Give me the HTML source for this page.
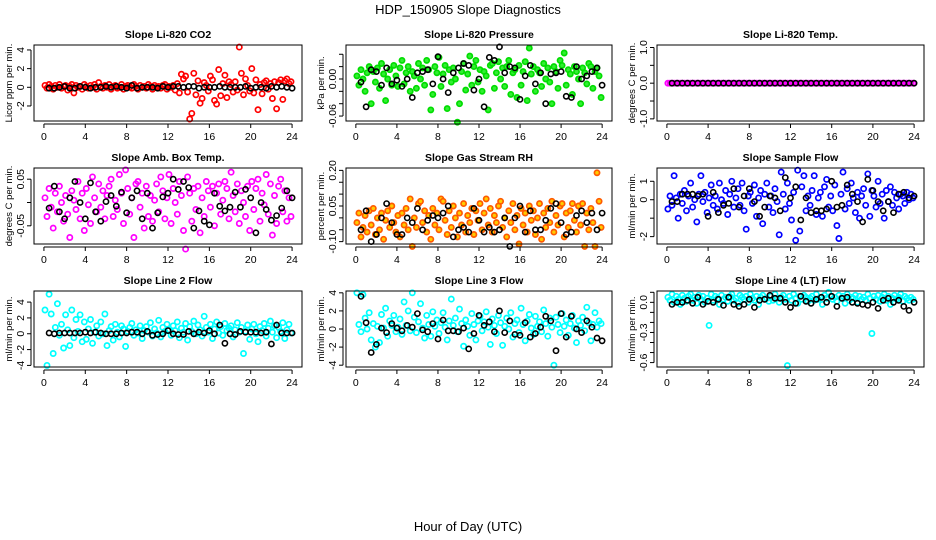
<!DOCTYPE html>
<html><head><meta charset="utf-8"><style>
html,body{margin:0;padding:0;background:#fff;}
svg{display:block;font-family:"Liberation Sans",Arial,sans-serif;}
</style></head><body>
<svg id="chart" width="936" height="540" viewBox="0 0 936 540" xmlns="http://www.w3.org/2000/svg">
<rect x="0" y="0" width="936" height="540" fill="#fff"/>
<text x="468" y="14" text-anchor="middle" font-size="13">HDP_150905  Slope Diagnostics</text>
<text x="468" y="531" text-anchor="middle" font-size="13">Hour of Day (UTC)</text>
</svg>
<script>
const hours = [0.1,0.3,0.5,0.7,0.9,1.1,1.3,1.5,1.7,1.9,2.1,2.3,2.5,2.7,2.9,3.1,3.3,3.5,3.7,3.9,4.1,4.3,4.5,4.7,4.9,5.1,5.3,5.5,5.7,5.9,6.1,6.3,6.5,6.7,6.9,7.1,7.3,7.5,7.7,7.9,8.1,8.3,8.5,8.7,8.9,9.1,9.3,9.5,9.7,9.9,10.1,10.3,10.5,10.7,10.9,11.1,11.3,11.5,11.7,11.9,12.1,12.3,12.5,12.7,12.9,13.1,13.3,13.5,13.7,13.9,14.1,14.3,14.5,14.7,14.9,15.1,15.3,15.5,15.7,15.9,16.1,16.3,16.5,16.7,16.9,17.1,17.3,17.5,17.7,17.9,18.1,18.3,18.5,18.7,18.9,19.1,19.3,19.5,19.7,19.9,20.1,20.3,20.5,20.7,20.9,21.1,21.3,21.5,21.7,21.9,22.1,22.3,22.5,22.7,22.9,23.1,23.3,23.5,23.7,23.9];
const blackHours = [0.5,1,1.5,2,2.5,3,3.5,4,4.5,5,5.5,6,6.5,7,7.5,8,8.5,9,9.5,10,10.5,11,11.5,12,12.5,13,13.5,14,14.5,15,15.5,16,16.5,17,17.5,18,18.5,19,19.5,20,20.5,21,21.5,22,22.5,23,23.5,24];
const xTicks = [0,4,8,12,16,20,24];

const co2Red = [0.2,-0.1,0.3,0.1,-0.2,0.2,0.0,0.3,-0.1,0.1,0.2,-0.3,0.1,0.3,-0.6,0.2,0.0,0.1,-0.2,0.3,0.1,-0.1,0.2,0.0,0.3,-0.2,0.5,0.1,-0.1,0.2,0.0,0.3,-0.2,0.1,0.2,-0.1,0.0,0.3,-0.2,0.1,0.2,0.0,-0.1,0.3,0.1,-0.2,0.2,0.0,0.1,-0.1,0.3,0.1,-0.2,0.2,0.0,0.1,-0.1,0.2,0.3,-0.2,0.1,0.0,0.2,-0.3,0.4,-0.6,1.4,0.9,1.2,-0.5,-3.4,-2.8,1.5,-0.8,0.7,-1.7,-1.2,0.5,0.2,-0.4,1.2,0.8,-1.4,-1.8,1.9,-0.9,0.4,1.3,-1.1,0.6,0.3,-0.5,0.6,-0.3,4.3,1.5,-0.8,0.9,0.2,-0.4,2.0,-0.6,0.8,-2.4,0.3,-0.7,0.5,0.7,-0.2,0.4,-1.2,0.6,-2.3,0.5,0.8,-1.3,0.7,0.9,0.4,0.6];
const co2Black = [-0.1,-0.1,0.0,0.1,-0.1,-0.1,0.1,0.0,-0.1,0.0,0.0,0.1,0.0,0.1,0.0,-0.1,0.2,-0.1,0.0,0.0,0.0,-0.1,0.1,0.0,0.1,0.1,0.0,0.1,0.1,-0.1,0.0,0.0,0.0,0.1,0.0,0.0,0.0,0.0,0.1,-0.1,0.0,0.0,-0.1,0.1,0.0,0.1,0.0,-0.1];

const pressGreen = [0.005,-0.01,0.015,0.0,-0.02,0.01,0.02,-0.04,0.012,-0.005,0.018,-0.015,0.025,0.008,-0.035,0.0,0.015,-0.01,0.022,0.005,-0.012,0.018,0.03,-0.008,0.01,0.02,-0.02,0.012,0.005,-0.015,0.025,0.0,0.018,-0.01,0.03,0.015,-0.05,-0.025,0.02,0.01,0.035,-0.012,0.008,0.022,-0.048,0.015,-0.005,0.018,0.0,-0.07,-0.04,0.012,0.025,-0.018,0.008,0.037,-0.01,0.02,0.03,-0.005,0.015,-0.02,0.012,0.005,-0.05,0.022,0.025,-0.015,0.01,0.028,0.0,0.018,-0.012,0.02,0.03,-0.025,0.01,0.015,-0.03,0.022,-0.01,0.012,0.028,-0.035,0.05,0.008,0.02,-0.02,0.015,0.01,-0.012,0.025,0.0,0.018,-0.005,-0.04,0.02,0.012,-0.015,0.03,0.022,0.042,-0.01,0.015,0.008,-0.025,0.02,0.012,0.0,-0.04,0.018,0.01,-0.008,0.025,0.02,-0.015,0.012,0.018,0.005,-0.03];
const pressBlack = [-0.005,-0.045,0.015,0.012,-0.01,0.018,-0.008,-0.002,-0.012,0.0,-0.03,0.01,0.012,0.015,-0.008,0.036,0.0,-0.022,0.01,0.018,0.025,0.022,-0.018,0.0,-0.045,0.035,0.03,0.052,0.01,0.02,0.018,-0.033,0.005,0.022,-0.008,0.01,-0.04,0.008,0.01,0.012,-0.028,-0.03,0.02,0.0,0.005,0.012,0.018,-0.01];

const tempMagenta = [0,0,0,0,0,0,0,0,0,0,0,0,0,0,0,0,0,0,0,0,0,0,0,0,0,0,0,0,0,0,0,0,0,0,0,0,0,0,0,0,0,0,0,0,0,0,0,0,0,0,0,0,0,0,0,0,0,0,0,0,0,0,0,0,0,0,0,0,0,0,0,0,0,0,0,0,0,0,0,0,0,0,0,0,0,0,0,0,0,0,0,0,0,0,0,0,0,0,0,0,0,0,0,0,0,0,0,0,0,0,0,0,0,0,0,0,0,0,0,0];
const tempBlack = [0,0,0,0,0,0,0,0,0,0,0,0,0,0,0,0,0,0,0,0,0,0,0,0,0,0,0,0,0,0,0,0,0,0,0,0,0,0,0,0,0,0,0,0,0,0,0,0];

const ambMagenta = [0.01,-0.03,0.03,-0.01,-0.055,0.02,-0.02,0.035,0.0,-0.04,0.015,-0.025,-0.075,0.025,0.005,-0.015,0.045,-0.035,0.02,-0.06,0.03,-0.005,-0.045,0.055,0.01,-0.02,0.04,-0.01,0.025,-0.035,0.015,0.035,0.05,-0.03,0.005,-0.015,0.06,0.02,-0.045,0.07,0.03,-0.025,0.01,-0.075,0.04,0.045,-0.01,0.02,-0.055,0.035,-0.03,0.015,-0.04,0.005,0.04,-0.02,0.055,0.025,-0.035,0.01,0.06,-0.045,0.03,0.0,-0.025,0.045,0.015,-0.06,-0.1,0.055,0.02,-0.04,0.03,-0.015,0.035,-0.065,0.01,-0.03,0.045,0.025,-0.01,0.035,-0.05,0.02,0.04,-0.025,0.005,0.045,0.03,-0.035,0.065,0.015,-0.02,0.04,-0.045,0.025,0.0,-0.03,0.035,-0.06,0.045,-0.015,0.03,0.05,-0.04,0.02,-0.005,0.06,-0.025,0.04,-0.07,0.015,-0.045,0.035,0.05,-0.02,0.025,-0.04,0.01,-0.03];
const ambBlack = [-0.012,0.035,-0.02,-0.035,0.01,0.045,0.0,-0.035,0.042,-0.02,-0.04,0.002,0.015,-0.008,0.022,-0.022,0.01,0.025,-0.035,0.02,-0.055,-0.022,0.012,0.02,0.05,0.028,0.045,0.032,-0.055,-0.018,-0.04,-0.048,0.02,-0.008,-0.018,-0.01,0.022,-0.01,0.028,0.01,-0.065,0.0,-0.015,-0.038,-0.028,-0.012,0.025,0.01];

const rhOrange = [-0.02,0.02,-0.08,-0.04,0.01,-0.06,0.03,-0.03,0.04,-0.07,0.0,-0.05,0.02,-0.09,-0.01,0.03,-0.04,0.05,-0.02,-0.06,0.01,-0.08,0.02,-0.03,0.04,-0.05,0.08,-0.12,0.0,-0.04,0.06,0.07,-0.02,0.03,-0.06,0.01,-0.09,0.04,-0.03,0.02,-0.05,0.08,0.07,-0.01,-0.07,0.03,-0.04,0.05,0.0,-0.08,0.02,-0.03,0.06,-0.06,0.01,-0.02,0.04,-0.07,0.03,-0.01,0.06,-0.05,0.02,0.08,-0.03,0.04,-0.06,0.01,-0.02,0.05,0.07,-0.04,0.0,-0.08,0.03,-0.02,0.06,-0.05,0.01,-0.11,0.04,-0.03,0.02,-0.06,0.05,-0.01,0.03,-0.07,0.0,0.06,-0.09,0.02,-0.04,0.04,-0.02,0.07,-0.06,0.01,-0.03,0.05,0.06,-0.08,0.02,-0.04,0.03,0.06,-0.01,-0.06,0.05,-0.03,0.06,-0.12,0.02,-0.05,0.04,-0.02,-0.12,0.19,0.07,-0.04];
const rhBlack = [-0.05,0.03,-0.1,-0.07,0.0,0.06,-0.02,-0.07,-0.07,0.0,-0.02,0.04,-0.05,-0.01,0.01,0.0,0.02,0.05,-0.08,-0.05,-0.04,-0.06,0.04,-0.01,-0.06,-0.04,-0.06,-0.05,0.0,-0.12,0.0,0.05,-0.06,0.03,-0.05,-0.05,-0.01,0.04,0.06,-0.02,-0.07,-0.06,0.01,0.03,-0.02,0.02,-0.05,0.02];

const sampleBlue = [-0.5,0.2,-0.3,1.3,0.1,-1.0,0.3,-0.2,0.5,-0.6,0.2,0.9,-0.4,0.0,-1.2,0.3,1.3,-0.1,0.4,-0.7,0.1,0.8,-0.3,0.2,-0.5,0.9,0.0,-0.2,0.5,-0.8,0.3,1.0,-0.4,0.1,0.6,-0.3,0.9,-0.6,-1.6,0.2,0.4,-0.2,0.8,-0.9,0.1,0.5,-1.3,0.3,0.9,-0.4,0.2,-0.7,0.6,-0.1,-1.9,1.5,0.3,-0.5,0.9,-0.2,-1.1,0.4,-2.2,1.6,-1.7,0.7,1.3,-0.6,0.2,-0.3,0.5,1.3,-0.8,0.1,0.4,-0.9,0.7,1.1,-0.4,0.2,-0.6,0.8,-1.4,-2.1,0.3,1.5,-0.5,0.6,-0.2,0.9,0.1,-0.7,0.4,-1.0,0.2,0.6,-0.3,1.4,-0.9,0.5,0.2,-0.4,1.0,-0.2,0.3,-1.0,0.5,-0.1,0.7,-0.3,0.4,0.1,-0.5,0.3,0.2,-0.2,0.4,0.0,0.3,0.1];
const sampleBlack = [-0.1,-0.1,0.3,0.3,0.3,0.2,0.3,-0.9,0.4,-0.7,-0.3,-0.2,0.6,-0.4,0.2,0.6,-0.1,-0.9,-0.4,0.2,0.1,-0.6,1.2,0.1,0.7,-1.1,0.1,-0.7,-0.6,-0.6,-0.5,1.0,-0.4,-0.3,0.8,0.3,-0.1,-1.2,1.1,0.5,-0.1,-0.6,-0.1,-0.7,0.3,0.4,0.1,0.2];

const line2Cyan = [3.0,-4.0,5.0,2.5,-2.5,0.8,3.8,-0.2,1.2,-1.8,2.4,0.5,-1.5,3.0,-0.5,1.8,0.3,2.4,-1.0,1.5,-0.7,0.6,1.8,-1.2,0.2,1.0,-0.3,1.5,0.0,2.5,-1.5,0.4,0.9,-0.8,1.2,0.2,-0.4,1.0,0.6,-1.6,0.3,0.8,1.3,-0.2,0.5,0.1,1.0,-0.6,0.4,0.9,0.2,1.4,-0.3,0.6,0.1,1.7,-0.4,0.8,0.3,1.2,0.5,-0.2,1.0,0.4,1.5,-0.5,0.7,0.2,1.3,-0.8,0.9,0.3,1.6,0.0,1.1,0.5,-0.3,2.2,0.8,0.2,1.2,-0.6,0.6,1.5,0.1,0.9,-0.2,1.3,0.4,0.7,1.0,-0.4,0.5,1.4,0.2,0.8,-2.5,0.3,1.1,-0.7,0.6,1.2,0.0,-1.0,0.9,0.4,1.3,-0.3,0.7,1.6,0.2,1.0,-0.5,0.8,0.3,1.4,-0.6,0.5,1.2,0.1];
const line2Black = [0.1,0.0,0.1,0.1,0.1,0.1,0.1,0.2,0.1,0.2,0.1,0.0,0.0,0.0,0.1,0.1,0.2,0.2,0.0,0.3,-0.2,-0.1,0.0,0.4,0.0,-0.1,-0.1,0.3,0.0,0.2,0.1,0.4,0.0,1.1,-1.2,0.0,-0.1,0.3,0.2,0.2,0.2,0.1,0.2,-1.3,1.1,0.1,0.1,0.1];

const line3Cyan = [4.0,0.5,-0.3,3.8,1.2,0.0,1.8,-1.2,0.6,-2.0,0.3,-1.5,1.6,0.1,2.3,-0.8,0.9,0.4,1.5,-0.3,0.2,1.1,-0.6,3.0,0.4,2.0,-0.2,4.0,1.3,-0.4,0.8,2.8,0.1,-1.0,1.5,0.5,-0.8,1.9,0.3,1.0,-0.5,0.7,1.8,0.2,-1.2,0.9,3.3,0.4,1.2,-0.3,2.2,0.6,-1.9,1.0,0.3,-0.7,1.7,0.5,-1.2,0.9,1.4,-0.2,0.8,1.9,0.2,-1.7,1.1,0.4,-0.5,1.5,0.7,-1.8,0.3,1.2,0.0,1.8,-0.9,0.6,1.0,-0.4,2.3,0.5,-1.3,0.9,1.6,0.1,-0.6,1.4,0.3,0.8,-0.3,2.1,0.6,-0.8,1.2,0.2,-4.0,1.3,0.5,-0.4,1.7,0.3,1.0,-0.7,0.6,1.5,0.1,-1.5,0.9,0.4,1.3,-0.2,2.4,0.7,-1.3,0.5,1.8,0.2,0.9,0.6];
const line3Black = [3.6,0.7,-2.6,-1.7,0.1,-0.4,0.6,0.1,-0.2,0.4,0.2,1.7,-0.1,-0.3,0.6,-1.1,1.0,-0.2,-0.2,-0.3,0.1,-2.2,-0.5,1.5,0.4,0.8,-0.3,2.0,-0.4,0.9,-0.6,-0.7,0.7,-0.9,-0.5,0.2,1.4,0.9,-2.4,1.7,-0.9,1.4,0.0,-0.4,0.9,0.2,-1.0,-1.3];

const line4Cyan = [0.05,0.02,0.08,0.0,0.06,0.03,-0.02,0.07,0.04,0.01,0.06,0.08,0.02,0.05,-0.01,0.07,0.03,0.06,0.0,0.04,-0.23,0.08,0.02,0.06,0.04,-0.02,0.07,0.03,0.05,0.01,0.06,0.08,0.02,0.04,-0.01,0.07,0.05,0.03,0.06,0.0,0.08,0.04,0.02,0.06,-0.02,0.05,0.07,0.03,0.04,0.01,0.06,0.02,0.08,0.04,0.0,0.05,0.07,0.03,-0.63,0.06,0.02,0.08,0.04,-0.01,0.06,0.03,0.07,0.05,0.01,0.04,0.06,0.02,0.08,0.03,0.05,-0.02,0.07,0.04,0.1,0.06,0.03,0.05,0.01,0.07,0.04,0.06,-0.01,0.08,0.02,0.05,0.04,0.07,0.0,0.06,0.03,0.05,0.02,0.08,0.04,-0.31,0.06,0.03,0.07,0.01,0.05,0.08,0.02,0.06,-0.02,0.04,0.07,0.03,0.05,0.08,0.01,0.06,0.04,0.02,0.05,0.03];
const line4Black = [-0.02,0.0,0.0,0.02,-0.01,0.05,-0.02,0.01,0.0,0.03,-0.03,0.05,-0.02,-0.04,-0.02,0.03,-0.05,0.02,0.03,0.07,0.04,0.04,0.0,-0.05,-0.01,0.06,0.01,-0.01,0.03,0.05,0.0,0.06,-0.04,0.04,0.05,0.0,-0.01,-0.02,-0.03,0.0,-0.06,0.02,0.04,0.0,0.02,-0.04,-0.08,0.0];

const co2Ticks = [-2,0,2,4], co2Labels = ["-2","0","2","4"];
const pressTicks = [-0.06,-0.04,-0.02,0,0.02,0.04], pressLabels = ["-0.06","","","0.00","",""];
const tempTicks = [-1,-0.5,0,0.5,1], tempLabels = ["-1.0","","0.0","","1.0"];
const ambTicks = [-0.05,0,0.05], ambLabels = ["-0.05","","0.05"];
const rhTicks = [-0.1,-0.05,0,0.05,0.1,0.15,0.2], rhLabels = ["-0.10","","","0.05","","","0.20"];
const sampleTicks = [-2,-1,0,1], sampleLabels = ["-2","","0","1"];
const line2Ticks = [-4,-2,0,2,4], line2Labels = ["-4","-2","0","2","4"];
const line3Ticks = [-4,-2,0,2,4], line3Labels = ["-4","-2","0","2","4"];
const line4Ticks = [-0.6,-0.5,-0.4,-0.3,-0.2,-0.1,0,0.1], line4Labels = ["-0.6","","","-0.3","","","0.0",""];

const NS = "http://www.w3.org/2000/svg";
const svg = document.getElementById('chart');
function mk(tag, attrs, parent){ const e=document.createElementNS(NS,tag); for(const k in attrs) e.setAttribute(k,attrs[k]); (parent||svg).appendChild(e); return e; }

const cols = [[34,302],[346,612],[657,924]];
const rows = [[45,121],[168,244],[291,367]];

const panels = [
 {key:'co2', title:'Slope Li-820 CO2', yTitle:'Licor ppm per min.', c:0,r:0, ymin:-3.61,ymax:4.53, ticks:co2Ticks, labels:co2Labels, vals:co2Red, blk:co2Black, stroke:'#ff0000', fill:'none'},
 {key:'pressure', title:'Slope Li-820 Pressure', yTitle:'kPa per min.', c:1,r:0, ymin:-0.068,ymax:0.055, ticks:pressTicks, labels:pressLabels, vals:pressGreen, blk:pressBlack, stroke:'#00dd00', fill:'#33ee33'},
 {key:'temp', title:'Slope Li-820 Temp.', yTitle:'degrees C per min.', c:2,r:0, ymin:-1.06,ymax:1.07, ticks:tempTicks, labels:tempLabels, vals:tempMagenta, blk:tempBlack, stroke:'#ff00ff', fill:'none'},
 {key:'amb-temp', title:'Slope Amb. Box Temp.', yTitle:'degrees C per min.', c:0,r:1, ymin:-0.089,ymax:0.074, ticks:ambTicks, labels:ambLabels, vals:ambMagenta, blk:ambBlack, stroke:'#ff00ff', fill:'none'},
 {key:'rh', title:'Slope Gas Stream RH', yTitle:'percent per min.', c:1,r:1, ymin:-0.11,ymax:0.21, ticks:rhTicks, labels:rhLabels, vals:rhOrange, blk:rhBlack, stroke:'#ff5a00', fill:'#ffcc00'},
 {key:'sample-flow', title:'Slope Sample Flow', yTitle:'ml/min per min.', c:2,r:1, ymin:-2.4,ymax:1.72, ticks:sampleTicks, labels:sampleLabels, vals:sampleBlue, blk:sampleBlack, stroke:'#0000ff', fill:'none'},
 {key:'line2-flow', title:'Slope Line 2 Flow', yTitle:'ml/min per min.', c:0,r:2, ymin:-4.2,ymax:5.4, ticks:line2Ticks, labels:line2Labels, vals:line2Cyan, blk:line2Black, stroke:'#00ffff', fill:'none'},
 {key:'line3-flow', title:'Slope Line 3 Flow', yTitle:'ml/min per min.', c:1,r:2, ymin:-4.2,ymax:4.2, ticks:line3Ticks, labels:line3Labels, vals:line3Cyan, blk:line3Black, stroke:'#00ffff', fill:'none'},
 {key:'line4-flow', title:'Slope Line 4 (LT) Flow', yTitle:'ml/min per min.', c:2,r:2, ymin:-0.644,ymax:0.113, ticks:line4Ticks, labels:line4Labels, vals:line4Cyan, blk:line4Black, stroke:'#00ffff', fill:'none'}
];

panels.forEach(p=>{
  const [L,R]=cols[p.c], [T,B]=rows[p.r];
  const g = mk('g',{});
  
  
  const xs = h => L + (h+0.96)/25.92*(R-L);
  const ys = v => B - (v-p.ymin)/(p.ymax-p.ymin)*(B-T);
  const t = mk('text',{x:(L+R)/2,y:T-7,'text-anchor':'middle','font-size':'10.5','font-weight':'bold'},g);
  t.textContent=p.title;
  
  
  const cy=(T+B)/2, tx=L-22;
  const yt = mk('text',{x:tx,y:cy,'text-anchor':'middle','font-size':'9.5',transform:`rotate(-90 ${tx} ${cy})`},g);
  yt.textContent=p.yTitle;
  
  
  // points
  const pts = mk('g',{},g);
  
  
  p.vals.forEach((v,i)=>{
    const c = mk('circle',{cx:xs(hours[i]).toFixed(1),cy:ys(v).toFixed(1),r:2.6,fill:p.fill,stroke:p.stroke,'stroke-width':1.7},pts);
    
    
  });
  const bk = mk('g',{},g);
  
  
  p.blk.forEach((v,i)=>{
    const c = mk('circle',{cx:xs(blackHours[i]).toFixed(1),cy:ys(v).toFixed(1),r:2.6,fill:'none',stroke:'#000','stroke-width':1.6},bk);
    
    
  });
  const box = mk('rect',{x:L,y:T,width:R-L,height:B-T,fill:'none',stroke:'#000','stroke-width':1},g);
  
  
  // x axis
  const xa = mk('g',{},g);
  
  
  mk('line',{x1:xs(0),x2:xs(24),y1:B+3,y2:B+3,stroke:'#000'},xa);
  xTicks.forEach(h=>{
    mk('line',{x1:xs(h),x2:xs(h),y1:B+3,y2:B+7,stroke:'#000'},xa);
    const lt = mk('text',{x:xs(h),y:B+19,'text-anchor':'middle','font-size':'10.5'},xa);
    lt.textContent=String(h);
    
    
  });
  // y axis
  const ya = mk('g',{},g);
  
  
  const y0=ys(p.ticks[0]), y1=ys(p.ticks[p.ticks.length-1]);
  mk('line',{x1:L-3,x2:L-3,y1:y0,y2:y1,stroke:'#000'},ya);
  p.ticks.forEach((v,i)=>{
    const yy=ys(v);
    mk('line',{x1:L-7,x2:L-3,y1:yy,y2:yy,stroke:'#000'},ya);
    if(p.labels[i]){
      const lx=L-10;
      const lt = mk('text',{x:lx,y:yy,'text-anchor':'middle','font-size':'10.5',transform:`rotate(-90 ${lx} ${yy})`},ya);
      lt.textContent=p.labels[i];
      
      
    }
  });
});
</script>
</body></html>
